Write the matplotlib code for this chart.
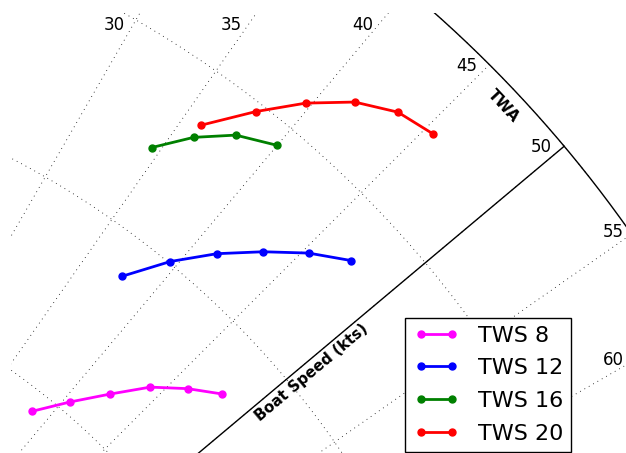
import numpy as np
import matplotlib
matplotlib.use("Agg")
import matplotlib.pyplot as plt
from matplotlib.projections import PolarAxes
from matplotlib.transforms import Affine2D
from matplotlib.legend_handler import HandlerLine2D

# ---------------- data (TWA in degrees, boat speed in kts) ----------------
twa_8 = [38.65, 40.47, 42.37, 44.16, 46.09, 47.98]
bs_8 = [3.89, 4.06, 4.24, 4.42, 4.56, 4.68]
twa_12 = [37.70, 39.54, 41.42, 43.38, 45.31, 47.25]
bs_12 = [4.78, 5.01, 5.21, 5.39, 5.56, 5.70]
twa_16 = [34.49, 36.11, 37.90, 40.00]
bs_16 = [5.45, 5.63, 5.78, 5.88]
twa_20 = [36.06, 37.97, 39.73, 41.57, 43.48, 45.44]
bs_20 = [5.71, 5.95, 6.16, 6.34, 6.46, 6.51]
series_labels = ["TWS 8", "TWS 12", "TWS 16", "TWS 20"]
twa_ticks = [30, 35, 40, 45, 50, 55, 60]
speed_grid = [4, 5, 6]
speed_max = 7
speed_axis_twa = 50

# ---------------- layout ----------------
W, H = 626, 453
DPI = 100
ORIGIN_PX = (-408.0, 962.0)   # pole position in figure pixels (from top-left)
SCALE = 181.3                  # pixels per knot
CLIP_LEFT, CLIP_TOP = 10.5, 12.5

fig = plt.figure(figsize=(W / DPI, H / DPI), dpi=DPI)
ax = fig.add_axes([CLIP_LEFT / W, 0, (W - CLIP_LEFT) / W, (H - CLIP_TOP) / H])
ox, oy = ORIGIN_PX
ax.set_xlim((CLIP_LEFT - ox) / SCALE, (W - ox) / SCALE)
ax.set_ylim((oy - H) / SCALE, (oy - CLIP_TOP) / SCALE)
ax.set_axis_off()

try:
    polar = PolarAxes.PolarTransform(apply_theta_transforms=False)
except TypeError:
    polar = PolarAxes.PolarTransform()
# TWA measured clockwise from north
tr = Affine2D().scale(-np.pi / 180.0, 1.0).translate(np.pi / 2, 0) + polar + ax.transData

grid_kw = dict(color="k", lw=0.6, linestyle=(0, (1, 5)), transform=tr, zorder=1)
theta_span = np.linspace(15, 75, 400)
for r in speed_grid + [speed_max]:
    ax.plot(theta_span, np.full_like(theta_span, r), **grid_kw)
r_span = np.linspace(2.5, speed_max, 100)
for t in twa_ticks:
    ax.plot(np.full_like(r_span, t), r_span, **grid_kw)

# solid "floating" axes
ax.plot(theta_span, np.full_like(theta_span, speed_max), color="k", lw=1.0,
        transform=tr, zorder=2)
ax.plot(np.full_like(r_span, speed_axis_twa), r_span, color="k", lw=1.0,
        transform=tr, zorder=2)

# data
colors = ["#ff00ff", "#0000ff", "#008000", "#ff0000"]
series = [(twa_8, bs_8), (twa_12, bs_12), (twa_16, bs_16), (twa_20, bs_20)]
lines = []
for (t, s), c, lab in zip(series, colors, series_labels):
    ln, = ax.plot(t, s, "o-", color=c, lw=2.0, ms=5, mec=c, label=lab,
                  transform=tr, zorder=3)
    lines.append(ln)

# tick labels of TWA, placed where each angle line leaves the visible area
xr = ax.get_xlim()[1]
yt = ax.get_ylim()[1]
for t in twa_ticks:
    rad = np.deg2rad(t)
    cand = {"arc": speed_max, "top": yt / np.cos(rad), "right": xr / np.sin(rad)}
    edge = min(cand, key=cand.get)
    off = {"arc": (-23, 1), "top": (-26, -11), "right": (-13, 7.5)}[edge]
    ax.annotate(str(t), xy=(t, cand[edge]), xycoords=tr, xytext=off,
                textcoords="offset pixels", ha="center", va="center_baseline",
                fontsize=12, annotation_clip=False)

# axis labels
ax.annotate("Boat Speed (kts)", xy=(speed_axis_twa, 5.13), xycoords=tr,
            xytext=(7.3, -8.7), textcoords="offset pixels", ha="center",
            va="center", rotation=40, rotation_mode="anchor", fontsize=10.8,
            fontweight="bold", annotation_clip=False)
ax.annotate("TWA", xy=(46.8, speed_max), xycoords=tr, xytext=(-13.9, -13.0),
            textcoords="offset pixels", ha="center", va="center",
            rotation=-47, rotation_mode="anchor", fontsize=11,
            fontweight="bold", annotation_clip=False)

leg = ax.legend(handles=lines, loc="lower left",
                bbox_to_anchor=(404.5 / W, 1.5 / H), bbox_transform=fig.transFigure,
                borderaxespad=0, fontsize=16, numpoints=2, fancybox=False,
                framealpha=1, edgecolor="k", borderpad=0.36, labelspacing=0.57,
                handlelength=2.19, handletextpad=0.74,
                handler_map={matplotlib.lines.Line2D: HandlerLine2D(marker_pad=0.4)})
leg.get_frame().set_linewidth(1.0)

fig.savefig("out.png", dpi=DPI)
